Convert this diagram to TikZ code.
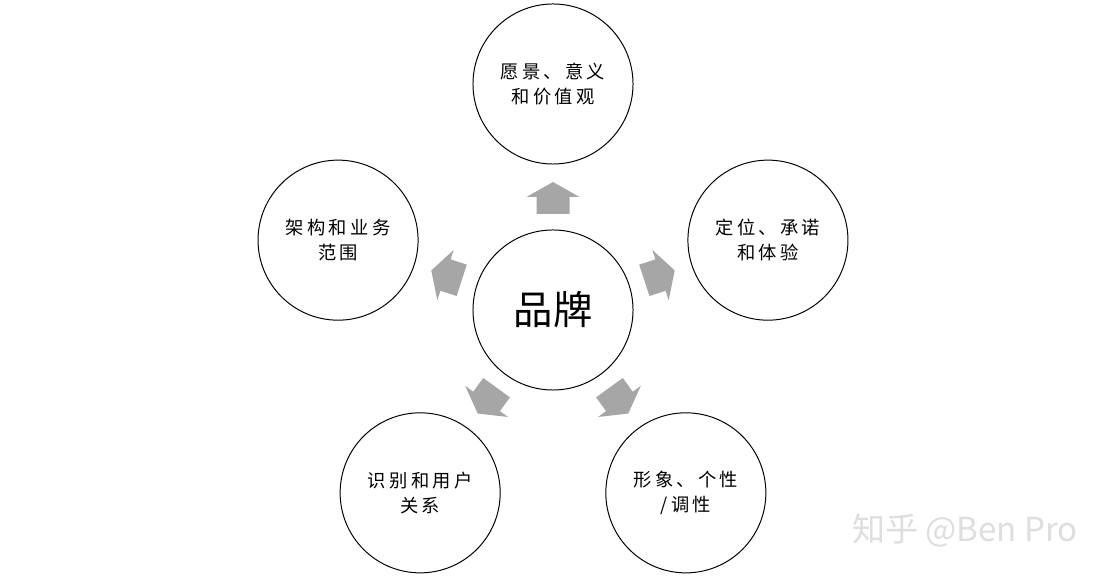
\documentclass[tikz,border=0pt]{standalone}
\usepackage{fontspec}
\setmainfont{Noto Sans CJK SC}
\newfontfamily\spacedcjk[LetterSpace=18]{Noto Sans CJK SC}
\usetikzlibrary{calc}
\definecolor{arrowgray}{RGB}{166,166,166}
\definecolor{markgray}{RGB}{222,222,222}

\begin{document}
\begin{tikzpicture}[x=0.025cm, y=0.025cm,
  topic/.style={draw, circle, line width=0.7pt, minimum size=4cm, inner sep=0pt, align=center, font=\spacedcjk\fontsize{13}{18}\selectfont},
  core/.style={topic, font=\fontsize{28}{32}\selectfont},
  blockarrow/.style={fill=arrowgray, draw=none},
]
  \useasboundingbox (0,0) rectangle (1106,578);

  % Centre
  \node[core] (brand) at (553,268) {品牌};

  % Five outer circles
  \node[topic] (vision) at ($(brand)+(90:226)$) {愿景、意义\\和价值观};
  \node[topic] (position) at ($(brand)+(18:226)$) {定位、承诺\\和体验};
  \node[topic] (scope) at ($(brand)+(162:226)$) {架构和业务\\范围};
  \node[topic] (identity) at ($(brand)+(234:226)$) {识别和用户\\关系};
  \node[topic] (image) at ($(brand)+(306:226)$) {形象、个性\\/调性};

  % Block arrows
  \foreach \a in {90,18,162,234,306} {
    \begin{scope}[shift={(brand.center)}, rotate=\a]
      \fill[blockarrow] (96,-16.5) -- (113,-16.5) -- (113,-26.5) -- (128,0)
        -- (113,26.5) -- (113,16.5) -- (96,16.5) -- cycle;
    \end{scope}
  }

  % Watermark
  \node[font=\fontsize{23.5}{26}\selectfont, text=markgray] (mark) at (965,48) {知乎 @Ben Pro};
\end{tikzpicture}
\end{document}
